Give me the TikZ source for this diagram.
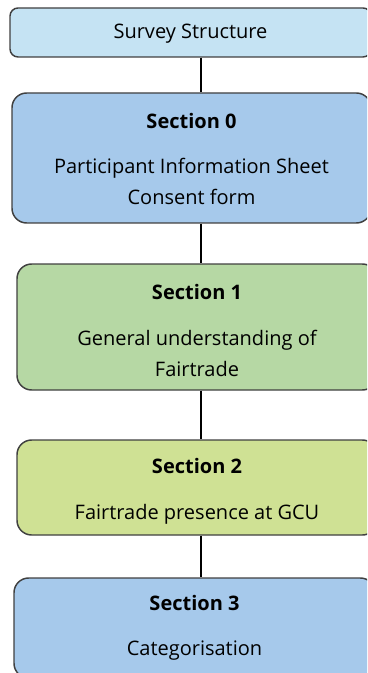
\documentclass[tikz,border=0pt]{standalone}
\usepackage{fontspec}
\setmainfont{Open Sans}
\usetikzlibrary{positioning}
\definecolor{titlebl}{RGB}{197,227,243}
\definecolor{secbl}{RGB}{166,201,235}
\definecolor{secgr}{RGB}{182,216,164}
\definecolor{secyg}{RGB}{207,225,148}
\definecolor{edge}{RGB}{64,64,64}

\begin{document}
\begin{tikzpicture}[x=0.75pt,y=-0.75pt,
  box/.style={draw=edge,line width=1.1pt,rounded corners=11pt,inner sep=0pt},
  head/.style={font=\fontsize{15}{17}\selectfont\bfseries},
  body/.style={font=\fontsize{15}{23.25}\selectfont,align=center},
  link/.style={line width=1.1pt,black}]
\useasboundingbox (0,0) rectangle (367,673);
\clip (0,0) rectangle (367,673);
\coordinate (spine) at (201,0);
% title
\node[box,fill=titlebl,rounded corners=6pt,minimum width=270.75pt,minimum height=36.75pt](title)at(190.5,32.5){};
\node[font=\fontsize{15}{17}\selectfont,yshift=-0.75pt](ttl)at(title){Survey Structure};
% section 0
\node[box,fill=secbl,minimum width=269.25pt,minimum height=97.5pt](s0)at(191.5,158){};
\node[head,yshift=-21.75pt](h0)at(s0.north){Section 0};
\node[body,yshift=-67pt](b0)at(s0.north){Participant Information Sheet\\Consent form};
% section 1
\node[box,fill=secgr,minimum width=270pt,minimum height=94.5pt](s1)at(197,327){};
\node[head,yshift=-21.75pt](h1)at(s1.north){Section 1};
\node[body,yshift=-67.5pt](b1)at(s1.north){General understanding of\\Fairtrade};
% section 2
\node[box,fill=secyg,minimum width=270pt,minimum height=71.25pt](s2)at(197,487.5){};
\node[head,yshift=-20.25pt](h2)at(s2.north){Section 2};
\node[body,yshift=-56pt](b2)at(s2.north){Fairtrade presence at GCU};
% section 3
\node[box,fill=secbl,minimum width=270.75pt,minimum height=75pt](s3)at(194.5,628){};
\node[head,yshift=-19.5pt](h3)at(s3.north){Section 3};
\node[body,yshift=-55.25pt](b3)at(s3.north){Categorisation};
% links
\draw[link](title.south -| spine)--(s0.north -| spine);
\draw[link](s0.south -| spine)--(s1.north -| spine);
\draw[link](s1.south -| spine)--(s2.north -| spine);
\draw[link](s2.south -| spine)--(s3.north -| spine);
\end{tikzpicture}
\end{document}
